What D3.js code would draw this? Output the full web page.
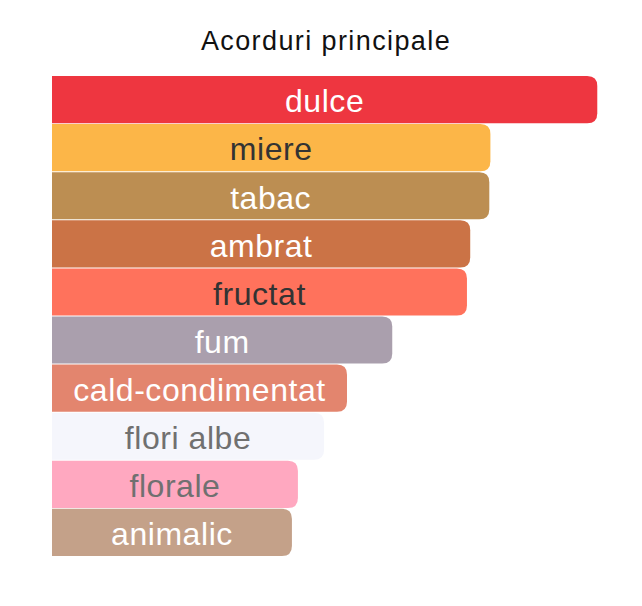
<!DOCTYPE html>
<html>
<head>
<meta charset="utf-8">
<script src="https://cdn.jsdelivr.net/npm/d3@7"></script>
<style>
  body { margin: 0; background: #fff; }
  text { font-family: "Liberation Sans", Arial, sans-serif; }
</style>
</head>
<body>
<div id="chart"></div>
<script>
// main accords, strongest first
const accords = ["dulce", "miere", "tabac", "ambrat", "fructat", "fum", "cald-condimentat", "flori albe", "florale", "animalic"];
const strength = [100, 80.4, 80.2, 76.7, 76.1, 62.4, 54.1, 49.9, 45.1, 44.0];
const barColors = ["#ee3640", "#fcb648", "#bc8e52", "#cb7346", "#ff725c", "#aa9fad", "#e3856e", "#f5f6fc", "#ffa8c0", "#c4a189"];
const labelColors = ["#fff", "#333", "#fff", "#fff", "#333", "#fff", "#fff", "#707070", "#707070", "#fff"];

const config = {
  width: 642, height: 606,
  margin: { top: 76, right: 42, bottom: 50, left: 52 },
  radius: 10
};

const innerW = config.width - config.margin.left - config.margin.right;
const innerH = config.height - config.margin.top - config.margin.bottom;

const svg = d3.select("#chart").append("svg")
  .attr("width", config.width)
  .attr("height", config.height);

svg.append("text")
  .attr("x", config.margin.left + innerW / 2)
  .attr("y", 50)
  .attr("text-anchor", "middle")
  .attr("font-size", 27)
  .attr("letter-spacing", 1.4)
  .attr("fill", "#111")
  .text("Acorduri principale");

const chart = svg.append("g")
  .attr("transform", `translate(${config.margin.left},${config.margin.top})`);

const x = d3.scaleLinear().domain([0, 100.5]).range([0, innerW]);
const y = d3.scaleBand().domain(accords).range([0, innerH]).paddingInner(0.02);

const rows = accords.map((name, i) => ({ name, value: strength[i], color: barColors[i], text: labelColors[i] }));

// bar with only the right corners rounded
function barPath(d) {
  const w = x(d.value), h = y.bandwidth(), r = Math.min(config.radius, w / 2, h / 2);
  const y0 = y(d.name);
  return `M0,${y0}H${w - r}Q${w},${y0} ${w},${y0 + r}V${y0 + h - r}Q${w},${y0 + h} ${w - r},${y0 + h}H0Z`;
}

chart.selectAll("path.bar")
  .data(rows)
  .join("path")
  .attr("class", "bar")
  .attr("d", barPath)
  .attr("fill", d => d.color);

chart.selectAll("text.label")
  .data(rows)
  .join("text")
  .attr("class", "label")
  .attr("x", d => x(d.value) / 2)
  .attr("y", d => y(d.name) + y.bandwidth() / 2)
  .attr("dy", "0.4em")
  .attr("text-anchor", "middle")
  .attr("font-size", 32)
  .attr("letter-spacing", 0.55)
  .attr("fill", d => d.text)
  .text(d => d.name);
</script>
</body>
</html>
